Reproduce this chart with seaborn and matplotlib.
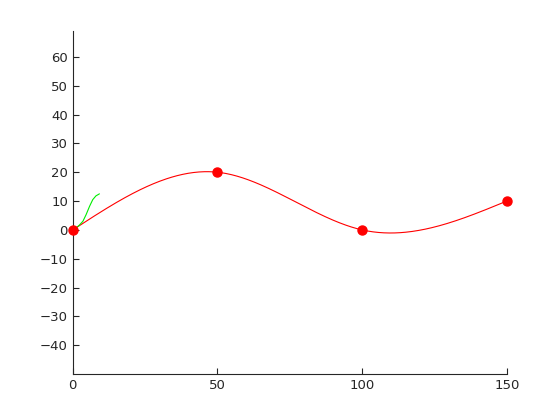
import numpy as np
import pandas as pd
import matplotlib
matplotlib.use("Agg")
import matplotlib.pyplot as plt
import seaborn as sns

# knots of the red curve
knot_x = [0, 50, 100, 150]
knot_y = [0, 20, 0, 10]

# short green curve near the origin
green_x = [0, 1.0, 2.2, 3.5, 4.6, 5.8, 6.9, 8.0, 9.2]
green_y = [0, 0.6, 1.6, 3.0, 5.3, 8.2, 10.5, 11.8, 12.5]

xticks = [0, 50, 100, 150]
yticks = [-40, -30, -20, -10, 0, 10, 20, 30, 40, 50, 60]


def natural_spline(xk, yk, n=400):
    # natural cubic spline through the knots
    xk = np.asarray(xk, float)
    yk = np.asarray(yk, float)
    k = len(xk)
    h = np.diff(xk)
    A = np.zeros((k, k))
    b = np.zeros(k)
    A[0, 0] = A[-1, -1] = 1
    for i in range(1, k - 1):
        A[i, i - 1] = h[i - 1]
        A[i, i] = 2 * (h[i - 1] + h[i])
        A[i, i + 1] = h[i]
        b[i] = 6 * ((yk[i + 1] - yk[i]) / h[i] - (yk[i] - yk[i - 1]) / h[i - 1])
    M = np.linalg.solve(A, b)
    xs = np.linspace(xk[0], xk[-1], n)
    idx = np.clip(np.searchsorted(xk, xs) - 1, 0, k - 2)
    x0, x1 = xk[idx], xk[idx + 1]
    hh = x1 - x0
    a = (x1 - xs) / hh
    c = (xs - x0) / hh
    ys = (a * yk[idx] + c * yk[idx + 1]
          + ((a ** 3 - a) * M[idx] + (c ** 3 - c) * M[idx + 1]) * hh ** 2 / 6)
    return xs, ys


sx, sy = natural_spline(knot_x, knot_y)
curve = pd.DataFrame({"x": sx, "y": sy})
green = pd.DataFrame({"x": green_x, "y": green_y})
knots = pd.DataFrame({"x": knot_x, "y": knot_y})

sns.set_style("white")
plt.rcParams["font.family"] = ["DejaVu Sans"]

fig = plt.figure(figsize=(5.6, 4.2), dpi=100)
ax = fig.add_axes([0.13, 0.11, 0.775, 0.815])

sns.lineplot(data=curve, x="x", y="y", sort=False, estimator=None,
             color="red", linewidth=0.8, ax=ax)
sns.lineplot(data=green, x="x", y="y", sort=False, estimator=None,
             color="#00ee00", linewidth=0.8, ax=ax)
ax.plot(knots["x"], knots["y"], linestyle="none", marker="o",
        markersize=6.5, color="red", clip_on=False, zorder=5)

ax.set_xlim(0, 150)
ax.set_ylim(-49.9, 68.8)
ax.set_xticks(xticks)
ax.set_yticks(yticks)
ax.set_xlabel("")
ax.set_ylabel("")

dark = (0.15, 0.15, 0.15)
for side in ["top", "right"]:
    ax.spines[side].set_visible(False)
for side in ["left", "bottom"]:
    ax.spines[side].set_color(dark)
    ax.spines[side].set_linewidth(0.8)
ax.tick_params(direction="in", length=4, width=0.8, colors=dark,
               labelsize=9.5, left=True, bottom=True)

fig.savefig("out.png", dpi=100)
